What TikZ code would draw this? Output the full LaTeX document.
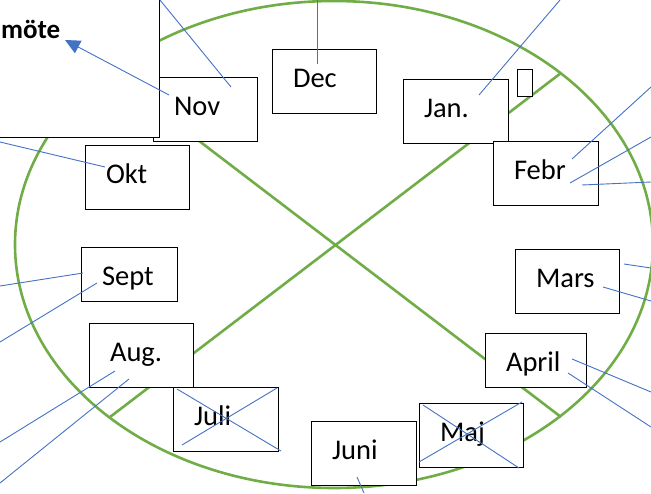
\documentclass[tikz,border=0pt]{standalone}
\usepackage{fontspec}
\setmainfont{Carlito}
\usetikzlibrary{positioning, arrows.meta, calc}
\definecolor{ringgreen}{HTML}{70AD47}
\definecolor{lineblue}{HTML}{4472C4}
\tikzstyle{month} = [rectangle, draw, fill=white, line width=0.8pt, anchor=north west,
    outer sep=0pt, inner xsep=21pt, inner ysep=0pt, text width=62pt, align=left,
    text height=38pt, text depth=26pt, font=\fontsize{28.5}{31}\selectfont]
\tikzstyle{short} = [text depth=16pt]
\tikzstyle{card} = [rectangle, draw, fill=white, line width=0.8pt, inner sep=0pt, outer sep=0pt]
\tikzstyle{ring} = [draw=ringgreen, line width=2.6pt]
\tikzstyle{link} = [draw=lineblue, line width=0.9pt]

\begin{document}
\begin{tikzpicture}[x=1pt, y=-1pt]
                      \useasboundingbox (0,0) rectangle (651,493);
                      \clip (0,0) rectangle (651,493);

                      % Ring and cross
                      \draw [ring] (334,244.5) ellipse [x radius=319, y radius=243.5];
                      \draw [ring] (110,417) -- (561,73);
                      \draw [ring] (110,73) -- (561,417);

                      % Nodes
                      \node [month] (nov) at (153,77) {Nov};
                      \node [card, minimum width=180pt, minimum height=150pt, anchor=south east] (moete) at (159,137) {};
                      \node [font=\bfseries\fontsize{27}{30}\selectfont, anchor=base west, inner sep=0pt] (moetetext) at (1,38) {möte};

                      \node [month] (dec) at (272,49) {Dec};
                      \node [month, text width=63pt] (jan) at (403,79) {Jan.};
                      \node [card, minimum width=15pt, minimum height=27pt, anchor=north west] (tofu) at (517,69) {};
                      \node [month, text width=63pt] (febr) at (493,141) {Febr};
                      \node [month] (mars) at (515,249) {Mars};
                      \node [month, short, text width=59pt] (april) at (485,333) {April};
                      \node [month] (maj) at (419,403) {Maj};
                      \node [month, text width=63pt] (juni) at (311,421) {Juni};
                      \node [month] (aug) at (89,323) {Aug.};
                      \node [month, text width=63pt] (juli) at (173,387) {Juli};
                      \node [month, short, text width=54pt] (sept) at (81,247) {Sept};
                      \node [month] (okt) at (85,145) {Okt};

                      % Connections
                      \draw [link, -{Triangle[length=15pt, width=14pt]}] ([shift={(16,18)}]nov.north west) -- (65,40);
                      \draw [link] (160,0) -- ([shift={(78,10)}]nov.north west);
                      \draw [link] (317,0) -- ([shift={(45,15)}]dec.north west);
                      \draw [link] (560,0) -- ([shift={(76,16)}]jan.north west);

                      \draw [link] (651,87) -- ([shift={(79,18)}]febr.north west);
                      \draw [link] (651,137) -- ([shift={(77,42)}]febr.north west);
                      \draw [link] (651,182) -- ([shift={(89,44)}]febr.north west);

                      \draw [link] (651,268) -- ([shift={(109,15)}]mars.north west);
                      \draw [link] (651,301) -- ([shift={(88,38)}]mars.north west);

                      \draw [link] (651,392) -- ([shift={(87,26)}]april.north west);
                      \draw [link] (651,427) -- ([shift={(83,40)}]april.north west);

                      % crossed out months
                      \draw [link] ([shift={(4,2)}]maj.north west) -- ([shift={(100,65)}]maj.north west);
                      \draw [link] ([shift={(0,59)}]maj.north west) -- ([shift={(103,-1)}]maj.north west);
                      \draw [link] ([shift={(4,2)}]juli.north west) -- ([shift={(108,64)}]juli.north west);
                      \draw [link] ([shift={(9,58)}]juli.north west) -- ([shift={(104,1)}]juli.north west);

                      \draw [link] (364,493) -- ([shift={(46,56)}]juni.north west);

                      \draw [link] (0,442) -- ([shift={(26,48)}]aug.north west);
                      \draw [link] (0,483) -- ([shift={(40,56)}]aug.north west);

                      \draw [link] (0,286) -- ([shift={(2,26)}]sept.north west);
                      \draw [link] (0,342) -- ([shift={(16,36)}]sept.north west);

                      \draw [link] (0,142) -- ([shift={(20,22)}]okt.north west);

                  \end{tikzpicture}
\end{document}
